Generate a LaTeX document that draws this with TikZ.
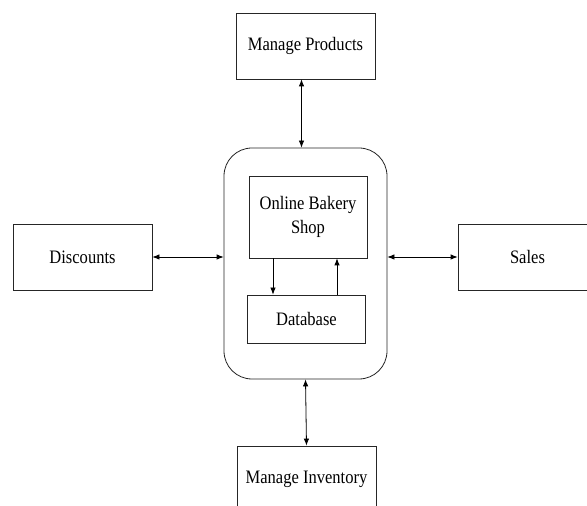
\documentclass[tikz,border=0pt]{standalone}
\usepackage{fontspec}
\setmainfont{Liberation Serif}[FakeStretch=0.87]
\usepackage{tikz}
\usetikzlibrary{positioning}
\usetikzlibrary{calc,arrows.meta}
\tikzset{
  procnode/.style = {align=center, inner sep=0pt, text centered,
    font=\fontsize{19}{24}\selectfont},
  ext_box/.style = {procnode, rectangle, draw=black!85, line width=0.8pt,
    minimum width=139pt, minimum height=66pt},% entite externe
  sys_box/.style = {procnode, rectangle, draw=black!85, line width=0.8pt,
    minimum width=118pt},% boite interne
  hub_box/.style = {rectangle, rounded corners=28pt, draw=black!85,
    line width=0.8pt, minimum width=163pt, minimum height=231pt}% systeme
}

\begin{document}
\begin{tikzpicture}[x=1pt,y=1pt,>={Latex[length=7pt,width=5.5pt]},line width=0.8pt]
\clip (0,0) rectangle (587,506);
\fill[white] (0,0) rectangle (587,506);
\node [hub_box] (hub) at (305.5,242.5) {};
\node [sys_box, minimum height=82pt] (shop) at (308,289) {Online Bakery\\Shop};
\node [sys_box, minimum height=48pt] (db) at (306.5,187) {Database};
\node [ext_box] (prod) at (305.5,460) {Manage Products};
\node [ext_box] (disc) at (82.5,249) {Discounts};
\node [ext_box] (sales) at (527.5,249) {Sales};
\node [ext_box] (inv) at (306.5,27) {Manage Inventory};
% echanges avec l'exterieur
\draw [<->] ([xshift=-4pt]prod.south) -- ([xshift=-4pt]prod.south |- hub.north);
\draw [<->] (disc.east) -- (disc.east -| hub.west);
\draw [<->] (sales.west -| hub.east) -- (sales.west);
\draw [<->] (hub.south) -- (inv.north);
% lecture / ecriture
\draw [->] ([xshift=-35pt]shop.south) -- ([xshift=-35pt]shop.south |- db.north);
\draw [->] ([xshift=29pt]shop.south |- db.north) -- ([xshift=29pt]shop.south);
\end{tikzpicture}
\end{document}
